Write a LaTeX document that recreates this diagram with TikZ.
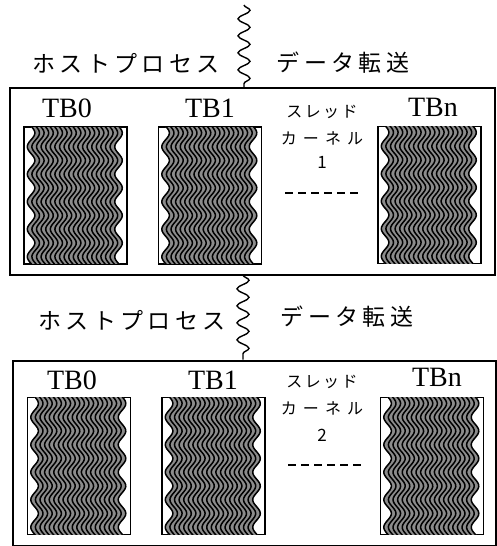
\documentclass[tikz,border=0pt]{standalone}
\usepackage{fontspec}
\setmainfont{Liberation Serif}
\newfontfamily\jp{Noto Sans CJK JP}
\usetikzlibrary{decorations.pathmorphing}
\tikzset{
  outerbox/.style={draw, line width=2, inner sep=0},
  tbbox/.style={draw, line width=1.8, inner sep=0, minimum width=103, minimum height=137},
  waveline/.style={line width=1.5},
  waveshade/.style={line width=4.8, draw=black!45},
  tblabel/.style={font=\fontsize{28}{30}\selectfont, inner sep=0},
  bigjp/.style={font=\jp\fontsize{23}{25}\selectfont\addfontfeature{LetterSpace=19}, inner sep=0},
  smalljp/.style={font=\jp\fontsize{16}{18}\selectfont, inner sep=0},
  wavy/.style={line width=1.4, decorate, decoration={snake, amplitude=6, segment length=17}},
  dashline/.style={line width=1.6, dash pattern=on 8 off 5}
}
\newcommand\tbwaves[1]{%
  \begin{scope}
    \clip ([shift={(1,1)}]#1.north west) rectangle ([shift={(-1,-1)}]#1.south east);
    \begin{scope}[shift={(#1.north west)}]
      \foreach \i in {0,...,18}{
        \draw[waveshade] plot[domain=-5:145, samples=80, smooth]
          ({10.3+4.6*\i+3.8*sin(\x/27.5*360)}, \x);
      }
      \foreach \i in {0,...,19}{
        \draw[waveline] plot[domain=-5:145, samples=80, smooth]
          ({8+4.6*\i+3.8*sin(\x/27.5*360)}, \x);
      }
    \end{scope}
  \end{scope}}
\begin{document}
\begin{tikzpicture}[x=1pt,y=-1pt]
\useasboundingbox (0,0) rectangle (497,546);

% kernel boxes
\node[outerbox, minimum width=485, minimum height=187] (k1) at (252.5,181.5) {};
\node[outerbox, minimum width=483, minimum height=185] (k2) at (254.5,453) {};

% wavy connectors
\coordinate (w1) at (244,5);
\draw[wavy] (w1) -- (w1 |- k1.north);
\coordinate (w2) at (243,275);
\draw[wavy] (w2) -- (w2 |- k2.north);

% labels
\node[bigjp] (hp1) at (126,63) {ホストプロセス};
\node[bigjp] (dt1) at (343,63) {データ転送};
\node[bigjp] (hp2) at (132,320) {ホストプロセス};
\node[bigjp] (dt2) at (347,317) {データ転送};

% kernel 1
\node[tbbox] (a0) at (75.5,195.5) {};
\node[tbbox] (a1) at (210,195.5) {};
\node[tbbox] (an) at (429.5,195) {};
\tbwaves{a0}\tbwaves{a1}\tbwaves{an}
\node[tblabel] (la0) at (67,108) {TB0};
\node[tblabel] (la1) at (210,108) {TB1};
\node[tblabel] (lan) at (433,107) {TBn};
\node[smalljp, font=\jp\fontsize{16}{18}\selectfont\addfontfeature{LetterSpace=15}] (s1) at (322,112) {スレッド};
\node[smalljp, font=\jp\fontsize{16}{18}\selectfont\addfontfeature{LetterSpace=38}] (c1) at (322,138) {カーネル};
\node[smalljp, font=\jp\fontsize{17}{18}\selectfont] (n1) at (322,162) {1};
\coordinate (d1a) at (285,193);
\coordinate (d1b) at (360,193);
\draw[dashline] (d1a) -- (d1b);

% kernel 2
\node[tbbox] (b0) at (79,466) {};
\node[tbbox] (b1) at (213.5,466) {};
\node[tbbox] (bn) at (432,466) {};
\tbwaves{b0}\tbwaves{b1}\tbwaves{bn}
\node[tblabel] (lb0) at (72,380) {TB0};
\node[tblabel] (lb1) at (213,380) {TB1};
\node[tblabel] (lbn) at (437,377) {TBn};
\node[smalljp, font=\jp\fontsize{16}{18}\selectfont\addfontfeature{LetterSpace=15}] (s2) at (322,382) {スレッド};
\node[smalljp, font=\jp\fontsize{16}{18}\selectfont\addfontfeature{LetterSpace=38}] (c2) at (322,408) {カーネル};
\node[smalljp, font=\jp\fontsize{17}{18}\selectfont] (n2) at (322,435) {2};
\coordinate (d2a) at (288,465);
\coordinate (d2b) at (363,465);
\draw[dashline] (d2a) -- (d2b);
\end{tikzpicture}
\end{document}
